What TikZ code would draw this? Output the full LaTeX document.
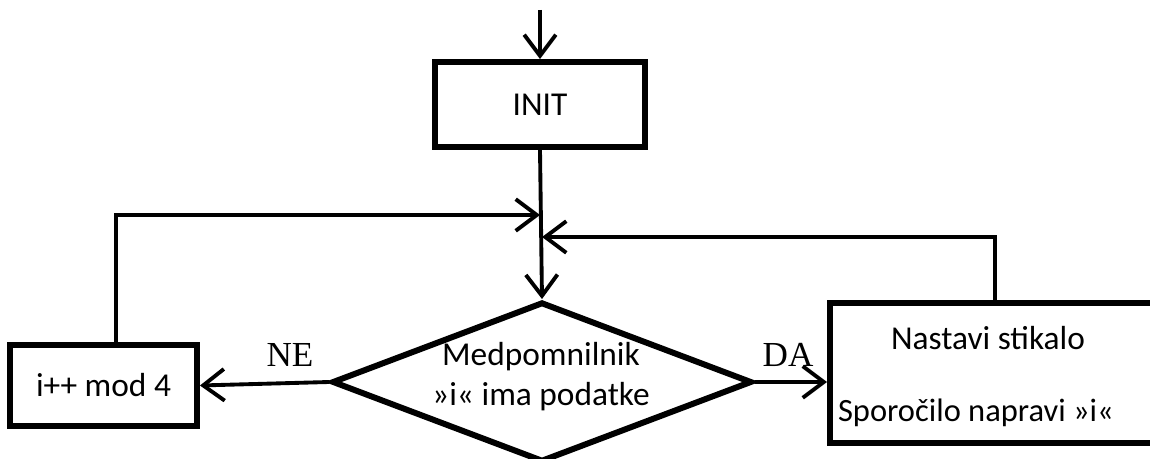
\documentclass[tikz,border=0pt]{standalone}
\usepackage{fontspec}
\setmainfont{Carlito}
\newfontfamily\serifnum{Liberation Serif}
\usetikzlibrary{arrows.meta,shapes.geometric}
\begin{document}
\begin{tikzpicture}[x=0.02cm,y=-0.02cm,
  boxst/.style={draw,line width=3.4pt,rectangle,inner sep=0pt,font=\fontsize{19}{23}\selectfont},
  decst/.style={draw,line width=3.4pt,diamond,inner sep=0pt,minimum width=8.4cm,minimum height=3.2cm},
  txt/.style={inner sep=0pt,font=\fontsize{19}{23}\selectfont},
  lbl/.style={inner sep=0pt,font=\serifnum\fontsize{20}{24}\selectfont},
  conn/.style={line width=2.2pt,-{Straight Barb[length=12pt,width=18pt,line width=2.2pt]}}]
\useasboundingbox (0,0) rectangle (1150,459);
\clip (0,0) rectangle (1150,459);
\node[boxst,minimum width=4.2cm,minimum height=1.7cm] (init) at (540,104.5) {INIT};
\node[decst] (dec) at (542,382) {};
\node[txt] (d1) at (541,357) {Medpomnilnik};
\node[txt] (d2) at (541,397) {»i« ima podatke};
\node[boxst,minimum width=3.74cm,minimum height=1.62cm] (inc) at (103.5,385.5) {i++ mod 4};
\node[boxst,minimum width=6.6cm,minimum height=2.8cm] (set) at (995,373) {};
\node[txt] (t1) at (988,338) {Nastavi stikalo};
\node[txt,font=\fontsize{18.5}{22}\selectfont] (t2) at (976,413) {Sporočilo napravi »i«};
\node[lbl] (ne) at (290,355) {NE};
\node[lbl] (da) at (788,355) {DA};
\coordinate (start) at (540,10);
\coordinate (j1) at (540,215);
\coordinate (j2) at (542,237);
\coordinate (lp) at (116,345);
\coordinate (rp) at (995,303);
\draw[conn] (start) -- (init.north);
\draw[conn] (init.south) -- (dec.north);
\draw[conn] (lp) |- (j1);
\draw[conn] (rp) |- (j2);
\draw[conn] (dec.west) -- (inc.east);
\draw[conn] (dec.east) -- (dec.east -| set.west);
\end{tikzpicture}
\end{document}
